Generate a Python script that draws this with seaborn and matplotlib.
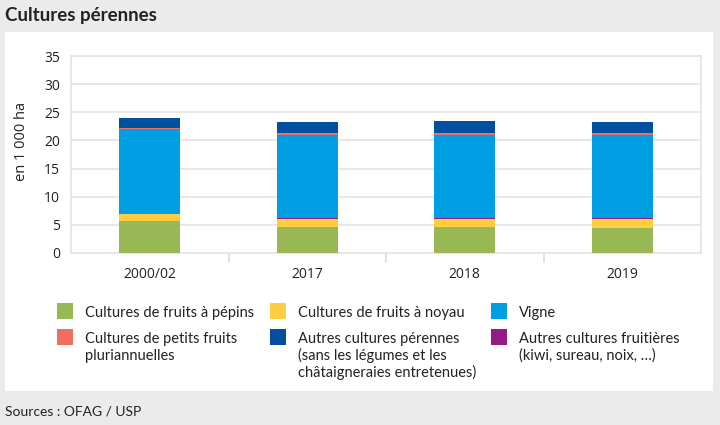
import numpy as np
import pandas as pd
import matplotlib.pyplot as plt
import seaborn as sns
from matplotlib.patches import Rectangle

sns.set_style('white')
plt.rcParams['font.family'] = ['Open Sans', 'DejaVu Sans']

# data (1 000 ha)
years = ['2000/02', '2017', '2018', '2019']
pepins = [5.6, 4.7, 4.7, 4.4]
noyau = [1.3, 1.4, 1.4, 1.7]
autres_fruit = [0.05, 0.2, 0.2, 0.15]
vigne = [15.0, 14.6, 14.6, 14.7]
petits_fruits = [0.3, 0.5, 0.5, 0.35]
autres_per = [1.75, 1.95, 2.0, 2.0]

series = [
    ('Cultures de fruits à pépins', pepins, '#97b854'),
    ('Cultures de fruits à noyau', noyau, '#fecd41'),
    ('Autres cultures fruitières\n(kiwi, sureau, noix, …)', autres_fruit, '#951b81'),
    ('Vigne', vigne, '#009fe3'),
    ('Cultures de petits fruits\npluriannuelles', petits_fruits, '#ef6e60'),
    ('Autres cultures pérennes\n(sans les légumes et les\nchâtaigneraies entretenues)', autres_per, '#00509e'),
]

df = pd.DataFrame({'annee': years})
cum = np.zeros(len(years))
for name, vals, col in series:
    cum = cum + np.array(vals)
    df[name] = cum

fig = plt.figure(figsize=(7.2, 4.25), dpi=100)
fig.patch.set_facecolor('#ebebeb')
fig.patches.append(Rectangle((5/720, 1-391/425), 708/720, 359/425,
                             transform=fig.transFigure, facecolor='white',
                             edgecolor='none', zorder=-5))

ax = fig.add_axes([71/720, 1-253/425, 630/720, 197/425])
ax.set_zorder(2)
ax.set_facecolor('white')

# stacked bars: draw cumulative totals from the top layer down
for name, vals, col in reversed(series):
    sns.barplot(data=df, x='annee', y=name, color=col, width=0.39,
                saturation=1, linewidth=0, edgecolor='none', ax=ax, zorder=3)

ax.set_ylim(0, 35)
ax.set_yticks(np.arange(0, 36, 5))
ax.set_xlim(-0.5, 3.5)
ax.yaxis.grid(True, color='#e6e6e6', linewidth=1.3, zorder=0)
ax.set_axisbelow(True)
for s in ax.spines.values():
    s.set_color('#e6e6e6')
    s.set_linewidth(1.3)
ax.tick_params(axis='y', length=0, labelsize=10, colors='#222222', pad=8)
ax.tick_params(axis='x', length=0, labelsize=10, colors='#222222', pad=10)
ax.set_xlabel('')
ax.set_ylabel('en 1 000 ha', fontsize=10.5, color='#222222')
ax.yaxis.set_label_coords(-0.067, 0.565)
# category separators under the axis
for b in [0.5, 1.5, 2.5]:
    ax.plot([b, b], [0, -0.045], transform=ax.get_xaxis_transform(),
            color='#dcdcdc', linewidth=1.2, clip_on=False)

narrow = ['Lato', 'DejaVu Sans']
fig.text(5/720, 1-16/425, 'Cultures pérennes', fontsize=13.5, fontweight='bold',
         family=narrow, va='center', ha='left', color='#222222')
fig.text(5/720, 1-411/425, 'Sources : OFAG / USP', fontsize=10,
         family=narrow, va='center', ha='left', color='#222222')

# legend, three columns, patches aligned with the first line
leg_order = [series[0], series[1], series[3], series[4], series[5], series[2]]
cols_x = [57, 270, 491]
rows_y = [303, 329]
for i, (name, vals, col) in enumerate(leg_order):
    x0 = cols_x[i % 3]
    y0 = rows_y[i // 3]
    fig.patches.append(Rectangle((x0/720, 1-(y0+16)/425), 16/720, 16/425,
                                 transform=fig.transFigure, facecolor=col,
                                 edgecolor='none'))
    for k, line in enumerate(name.split('\n')):
        fig.text((x0+28)/720, 1-(y0+14+17*k)/425, line, fontsize=10.5,
                 family=narrow, va='baseline', ha='left', color='#222222')

fig.savefig('out.png', dpi=100, facecolor=fig.get_facecolor())
